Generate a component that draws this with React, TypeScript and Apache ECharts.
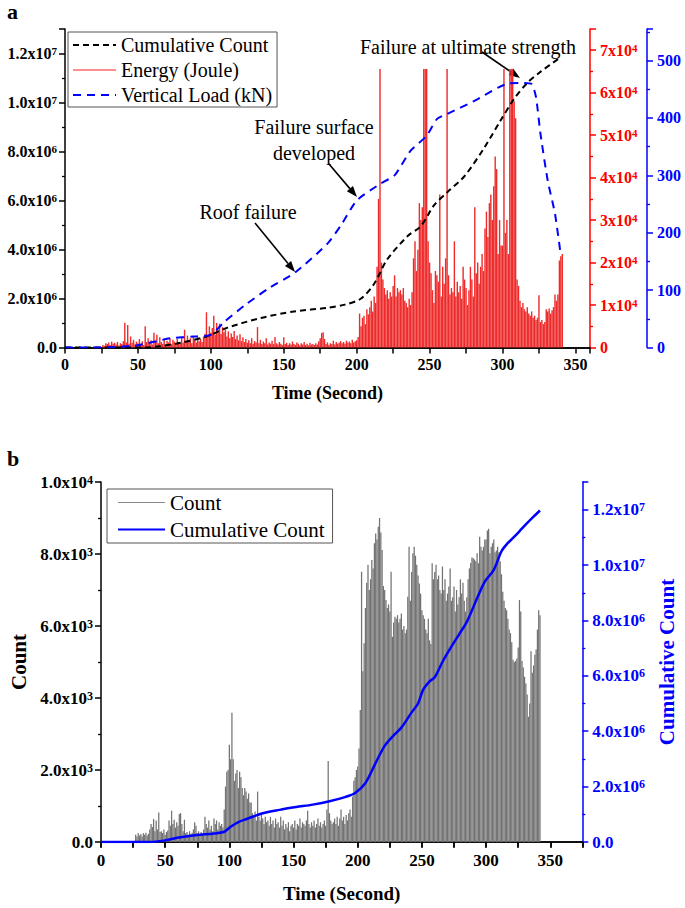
import React, { useEffect, useRef } from "react";
import * as echarts from "echarts";

const TIMES = "'Liberation Serif','Times New Roman',Times,serif";

// ---------- Panel a data ----------
const energyStartSecond = 25;
// Energy (Joule), one value per second from t = 25 s to t = 341 s
const energyJoule = [
  0, 600, 400, 1000, 800,
  1200, 600, 1400, 900, 1100, 700, 1300, 500, 1000, 800,
  1500, 5800, 1200, 5300, 900, 2600, 1100, 1800, 700, 1400,
  1000, 2000, 800, 1500, 600, 5000, 1300, 2200, 900, 1700,
  700, 3500, 1400, 3000, 1000, 2400, 1300, 900, 2100, 700,
  1600, 1200, 2200, 800, 1800, 1400, 900, 2000, 1300, 1000,
  2300, 1200, 4200, 1600, 2800, 1400, 2200, 1000, 2600, 1800,
  1200, 2400, 1500, 2000, 1300, 2600, 3200, 8300, 2800, 5000,
  3500, 4600, 7500, 3000, 5800, 4000, 5600, 3200, 4800, 3600,
  4200, 2600, 3800, 2200, 3300, 2500, 3900, 2000, 2800, 1700,
  3100, 1500, 2400, 1300, 2000, 1100, 1700, 1000, 2200, 900,
  1500, 1200, 4800, 1000, 1800, 800, 1400, 1000, 2200, 700,
  1200, 900, 1600, 800, 2500, 1000, 700, 1300, 900, 600,
  2400, 800, 1100, 600, 1000, 700, 1400, 800, 600, 1200,
  900, 500, 1000, 700, 1300, 600, 900, 500, 1100, 700,
  800, 600, 1000, 700, 1500, 2200, 3400, 3600, 2000, 800,
  1200, 600, 1000, 800, 1600, 700, 1300, 900, 1100, 1500,
  1000, 1300, 900, 1600, 1100, 1400, 1000, 1800, 1200, 1500,
  1700, 2500, 8000, 5000, 7000, 7500, 5500, 9000, 7800, 9500,
  11000, 8500, 12000, 10500, 19000, 35000, 65600, 20000, 16000, 14000,
  12500, 13500, 11500, 13000, 12000, 14500, 17000, 12000, 14000, 13000,
  13500, 12500, 14000, 11000, 10500, 9500, 11500, 10000, 13000, 21000,
  25000, 18000, 23000, 34000, 30000, 33000, 65600, 65600, 65600, 25000,
  20000, 17500, 13500, 10500, 18000, 17000, 15500, 36000, 12000, 19000,
  15000, 21000, 65600, 17000, 12500, 14000, 13000, 25000, 12000, 15500,
  13000, 14500, 11500, 19000, 16000, 14000, 10000, 13500, 19000, 16000,
  12000, 33000, 17500, 20000, 15000, 19000, 22000, 18000, 28000, 32000,
  26000, 34000, 36000, 30000, 38000, 45000, 42000, 22000, 30000, 24000,
  24000, 65600, 27000, 30000, 22000, 65600, 65600, 65600, 58000, 54000,
  16000, 14500, 11000, 9500, 10500, 9000, 8500, 9500, 8000, 7500,
  8500, 7000, 7500, 6500, 7000, 12300, 6000, 6500, 5500, 6000,
  9000, 8500, 9200, 8000, 8800, 9500, 12500, 11000, 12500, 20500,
  21500, 22000,
];

const loadTime = [0, 25, 50, 72, 88, 100, 109, 123, 139, 158, 180, 189, 200, 216, 226, 237, 248, 255, 262, 281, 297, 304, 313, 320, 323, 326, 331, 336, 340];
const loadKN = [0, 0, 4, 16, 19, 22, 44, 73, 102, 131, 181, 212, 256, 285, 300, 343, 369, 398, 407, 430, 453, 460, 461, 459, 436, 373, 291, 233, 160];

const cumATime = [0, 55, 65, 80, 97, 111, 134, 157, 180, 192, 203, 212, 221, 235, 244, 253, 262, 274, 288, 299, 308, 317, 326, 340];
const cumACount = [0, 0, 50000, 200000, 450000, 800000, 1200000, 1470000, 1620000, 1750000, 2000000, 2600000, 3600000, 4550000, 4950000, 5800000, 6330000, 7000000, 8200000, 9300000, 10150000, 10800000, 11250000, 11850000];

// ---------- Panel b data ----------
const countStartSecond = 27;
// AE count, one value per second from t = 27 s to t = 342 s
const countPerSecond = [
  200, 150, 250,
  180, 220, 150, 240, 200, 260, 180, 230, 350, 500,
  420, 640, 300, 600, 350, 820, 280, 300, 250, 350,
  200, 280, 320, 600, 450, 870, 500, 620, 400, 550,
  450, 780, 800, 500, 300, 620, 250, 280, 200, 300,
  220, 260, 350, 550, 450, 250, 300, 200, 280, 240,
  350, 700, 500, 400, 600, 350, 450, 300, 650, 500,
  600, 350, 550, 450, 500, 400, 900, 1540, 1950, 2000,
  2700, 2300, 3590, 2300, 1700, 1900, 2000, 1500, 1950, 1800,
  1500, 1300, 1500, 1400, 1200, 1350, 1100, 1100, 800, 700,
  850, 600, 1400, 700, 600, 800, 650, 500, 700, 550,
  600, 450, 700, 500, 600, 400, 650, 500, 550, 400,
  700, 450, 600, 350, 500, 400, 550, 300, 450, 500,
  400, 600, 350, 500, 450, 650, 400, 550, 500, 450,
  600, 870, 500, 400, 550, 450, 600, 400, 500, 650,
  450, 550, 400, 500, 600, 450, 900, 2250, 800, 600,
  500, 550, 650, 500, 700, 450, 650, 900, 600, 700,
  500, 750, 600, 800, 900, 700, 1260, 1700, 1800, 2000,
  2100, 2600, 3670, 7510, 4740, 5520, 6500, 7200, 7700, 7000,
  7300, 7830, 7600, 8300, 8570, 8400, 8760, 9000, 8600, 8110,
  7110, 7000, 6720, 6500, 6600, 6400, 7510, 5700, 6100, 6260,
  6200, 6300, 6100, 6200, 6350, 5900, 6000, 5800, 5900, 6815,
  8200, 6700, 7500, 8020, 8200, 7950, 7700, 7400, 7180, 6900,
  6440, 6300, 6200, 5900, 5800, 6200, 5600, 5500, 7740, 7300,
  7500, 7700, 7300, 7400, 7000, 6900, 7650, 7000, 7300, 6700,
  6900, 7100, 7600, 6700, 6800, 7100, 6400, 7000, 6600, 6800,
  7300, 6900, 7200, 6700, 6400, 6800, 7300, 7600, 7750, 7900,
  7880, 7850, 7800, 8020, 7740, 8480, 8200, 8100, 8200, 8400,
  8400, 8650, 8700, 8020, 8200, 8300, 8400, 8050, 8100, 8200,
  8050, 7800, 7440, 6950, 6700, 6500, 6440, 6200, 5900, 5800,
  5550, 5060, 5000, 5030, 5100, 5400, 6720, 6400, 5030, 4850,
  4590, 4400, 4100, 3480, 3850, 5300, 4700, 4900, 5200, 5350,
  5900, 6440, 6300,
];

const cumBTime = [0, 38, 49, 56, 62, 75, 88, 96, 101, 107, 114, 126, 139, 152, 165, 178, 190, 198, 206, 214, 221, 228, 234, 242, 247, 251, 256, 260, 266, 272, 279, 285, 293, 299, 306, 312, 316, 321, 326, 331, 337, 342];
const cumBCount = [0, 0, 50000, 120000, 170000, 250000, 310000, 370000, 550000, 720000, 840000, 1040000, 1160000, 1260000, 1350000, 1470000, 1620000, 1770000, 2130000, 2860000, 3470000, 3850000, 4130000, 4680000, 5000000, 5500000, 5800000, 5950000, 6500000, 6980000, 7500000, 7950000, 8800000, 9400000, 9830000, 10500000, 10750000, 10980000, 11220000, 11470000, 11750000, 11970000];

// ---------- helpers ----------
function rich(color: string, size: number) {
  return {
    m: { fontFamily: TIMES, fontWeight: "bold", fontSize: size, color },
    s: { fontFamily: TIMES, fontWeight: "bold", fontSize: Math.round(size * 0.68), color, verticalAlign: "top" },
  };
}
function sciFmt(step: number, zero: string, digits: number) {
  return (v: number) => {
    if (Math.abs(v % step) > 1e-6) return "";
    if (v === 0) return zero;
    const e = Math.floor(Math.log10(v) + 1e-9);
    const m = v / Math.pow(10, e);
    return `{m|${m.toFixed(digits)}x10}{s|${e}}`;
  };
}
function arrow(x1: number, y1: number, x2: number, y2: number) {
  const dx = x2 - x1, dy = y2 - y1;
  const L = Math.sqrt(dx * dx + dy * dy);
  const ux = dx / L, uy = dy / L;
  const len = 11, hw = 4;
  const bx = x2 - ux * len, by = y2 - uy * len;
  return [
    { type: "line", shape: { x1, y1, x2: bx, y2: by }, style: { stroke: "#000", lineWidth: 1.6 } },
    {
      type: "polygon",
      shape: { points: [[x2, y2], [bx - uy * hw, by + ux * hw], [bx + uy * hw, by - ux * hw]] },
      style: { fill: "#000" },
    },
  ];
}
function axisCommon(color: string) {
  return {
    axisLine: { show: true, onZero: false, lineStyle: { color, width: 1.5 } },
    axisTick: { show: true, inside: false, length: 6, lineStyle: { color, width: 1.5 } },
    minorTick: { show: true, splitNumber: 2, length: 3, lineStyle: { color, width: 1.3 } },
    splitLine: { show: false },
    minorSplitLine: { show: false },
  };
}
const xFmt = (v: number) => (v % 50 === 0 ? String(v) : "");
const hiddenSymbol = { opacity: 0 };

export default function App() {
  const topRef = useRef<HTMLDivElement>(null);
  const botRef = useRef<HTMLDivElement>(null);

  useEffect(() => {
    const c1 = echarts.init(topRef.current!, null, { renderer: "svg" });
    const c2 = echarts.init(botRef.current!, null, { renderer: "svg" });

    const energyData = energyJoule.map((v, i) => [energyStartSecond + i, v]);
    const loadData = loadTime.map((t, i) => [t, loadKN[i]]);
    const cumAData = cumATime.map((t, i) => [t, cumACount[i]]);
    const countData = countPerSecond.map((v, i) => [countStartSecond + i, v]);
    const cumBData = cumBTime.map((t, i) => [t, cumBCount[i]]);

    const labelBase = (color: string, size: number) => ({
      fontFamily: TIMES, fontWeight: "bold", fontSize: size, color,
    });

    c1.setOption({
      animation: false,
      backgroundColor: "#fff",
      grid: { left: 65, right: 95, top: 29, bottom: 82.5 },
      legend: {
        orient: "vertical", left: 68, top: 32, itemWidth: 43, itemHeight: 14, itemGap: 5,
        padding: [3, 5, 2, 4], borderColor: "#555", borderWidth: 1, selectedMode: false,
        textStyle: { fontFamily: TIMES, fontSize: 20, color: "#000" },
        data: [
          { name: "Cumulative Count", itemStyle: hiddenSymbol },
          { name: "Energy (Joule)", icon: "path://M0,0H40V1H0Z", itemStyle: { color: "#ff2020" } },
          { name: "Vertical Load (kN)", itemStyle: hiddenSymbol },
        ],
      },
      xAxis: [
        {
          type: "value", min: 0, max: 360, interval: 25, position: "bottom",
          ...axisCommon("#000"), minorTick: { show: false },
          axisLabel: { ...labelBase("#000", 16), margin: 9, formatter: xFmt },
          name: "Time (Second)", nameLocation: "middle", nameGap: 36,
          nameTextStyle: { fontFamily: TIMES, fontWeight: "bold", fontSize: 18, color: "#000" },
        },
        {
          type: "value", min: 0, max: 360, position: "top",
          axisLine: { show: true, lineStyle: { color: "#000", width: 1.5 } },
          axisTick: { show: false }, axisLabel: { show: false }, splitLine: { show: false },
        },
      ],
      yAxis: [
        {
          type: "value", position: "left", min: 0, max: 13000000, interval: 2000000,
          ...axisCommon("#000"),
          axisLabel: { ...labelBase("#000", 16), margin: 8, formatter: sciFmt(2000000, "0.0", 1), rich: rich("#000", 16) },
        },
        {
          type: "value", position: "right", offset: 0, min: 0, max: 75000, interval: 10000,
          ...axisCommon("#ff0000"),
          axisLabel: { ...labelBase("#ff0000", 16), margin: 10, formatter: sciFmt(10000, "0", 0), rich: rich("#ff0000", 16) },
        },
        {
          type: "value", position: "right", offset: 57, min: 0, max: 555, interval: 100,
          ...axisCommon("#0000ff"),
          axisLabel: { ...labelBase("#0000ff", 16), margin: 10, formatter: (v: number) => (v % 100 === 0 ? String(v) : "") },
        },
      ],
      series: [
        {
          name: "Energy (Joule)", type: "bar", xAxisIndex: 0, yAxisIndex: 1, data: energyData,
          barWidth: 1.4, itemStyle: { color: "#ee2a2a" }, z: 1,
        },
        {
          name: "Cumulative Count", type: "line", xAxisIndex: 0, yAxisIndex: 0, data: cumAData,
          symbol: "none", showSymbol: false, smooth: 0.3,
          lineStyle: { color: "#000", width: 2, type: [6, 4] }, itemStyle: { color: "#000" }, z: 3,
        },
        {
          name: "Vertical Load (kN)", type: "line", xAxisIndex: 0, yAxisIndex: 2, data: loadData,
          symbol: "none", showSymbol: false, smooth: 0.2,
          lineStyle: { color: "#0000ff", width: 2, type: [8, 6] }, itemStyle: { color: "#0000ff" }, z: 3,
        },
      ],
      graphic: [
        { type: "text", left: 7, top: 0, style: { text: "a", fontFamily: TIMES, fontWeight: "bold", fontSize: 22, fill: "#000" } },
        { type: "text", x: 468, y: 47, style: { text: "Failure at ultimate strength", fontFamily: TIMES, fontSize: 20, fill: "#000", align: "center", verticalAlign: "middle" } },
        { type: "text", x: 314, y: 127, style: { text: "Failure surface", fontFamily: TIMES, fontSize: 20, fill: "#000", align: "center", verticalAlign: "middle" } },
        { type: "text", x: 314, y: 153, style: { text: "developed", fontFamily: TIMES, fontSize: 20, fill: "#000", align: "center", verticalAlign: "middle" } },
        { type: "text", x: 248, y: 212, style: { text: "Roof failure", fontFamily: TIMES, fontSize: 20, fill: "#000", align: "center", verticalAlign: "middle" } },
        ...arrow(482, 52, 520, 78),
        ...arrow(329, 164, 357, 197),
        ...arrow(255, 223, 295, 272),
      ],
    });

    c2.setOption({
      animation: false,
      backgroundColor: "#fff",
      grid: { left: 101, right: 93, top: 52, bottom: 66 },
      legend: {
        orient: "vertical", left: 107, top: 59, itemWidth: 47, itemHeight: 14, itemGap: 6,
        padding: [3, 8, 3, 10], borderColor: "#555", borderWidth: 1, selectedMode: false,
        textStyle: { fontFamily: TIMES, fontSize: 21, color: "#000" },
        data: [
          { name: "Count", icon: "path://M0,0H40V1H0Z", itemStyle: { color: "#8a8a8a" } },
          { name: "Cumulative Count", itemStyle: hiddenSymbol },
        ],
      },
      xAxis: [
        {
          type: "value", min: 0, max: 375, interval: 25, position: "bottom",
          ...axisCommon("#000"), minorTick: { show: false },
          axisLabel: { ...labelBase("#000", 17), margin: 10, formatter: xFmt },
          name: "Time (Second)", nameLocation: "middle", nameGap: 42,
          nameTextStyle: { fontFamily: TIMES, fontWeight: "bold", fontSize: 19, color: "#000" },
        },
        {
          type: "value", min: 0, max: 375, interval: 25, position: "top",
          axisLine: { show: true, lineStyle: { color: "#000", width: 1.5 } },
          axisTick: { show: true, inside: true, length: 5, lineStyle: { color: "#000", width: 1.5 } },
          axisLabel: { show: false }, splitLine: { show: false },
        },
      ],
      yAxis: [
        {
          type: "value", position: "left", min: 0, max: 10000, interval: 2000,
          ...axisCommon("#000"),
          axisLabel: { ...labelBase("#000", 17), margin: 8, formatter: sciFmt(2000, "0.0", 1), rich: rich("#000", 17) },
          name: "Count", nameLocation: "middle", nameGap: 72, nameRotate: 90,
          nameTextStyle: { fontFamily: TIMES, fontWeight: "bold", fontSize: 21, color: "#000" },
        },
        {
          type: "value", position: "right", min: 0, max: 13000000, interval: 2000000,
          ...axisCommon("#0000ff"),
          axisLabel: { ...labelBase("#0000ff", 17), margin: 10, formatter: sciFmt(2000000, "0.0", 1), rich: rich("#0000ff", 17) },
          name: "Cumulative Count", nameLocation: "middle", nameGap: 70, nameRotate: 90,
          nameTextStyle: { fontFamily: TIMES, fontWeight: "bold", fontSize: 21, color: "#0000ff" },
        },
      ],
      series: [
        {
          name: "Count", type: "bar", xAxisIndex: 0, yAxisIndex: 0, data: countData,
          barWidth: 1.25, itemStyle: { color: "#737373" }, z: 1,
        },
        {
          name: "Cumulative Count", type: "line", xAxisIndex: 0, yAxisIndex: 1, data: cumBData,
          symbol: "none", showSymbol: false, smooth: 0.3,
          lineStyle: { color: "#0000ff", width: 2.5 }, itemStyle: { color: "#0000ff" }, z: 3,
        },
      ],
      graphic: [
        { type: "text", left: 7, top: 17, style: { text: "b", fontFamily: TIMES, fontWeight: "bold", fontSize: 22, fill: "#000" } },
      ],
    });

    return () => {
      c1.dispose();
      c2.dispose();
    };
  }, []);

  return (
    <div style={{ position: "absolute", left: 0, top: 0, width: 685, height: 908, background: "#fff" }}>
      <div ref={topRef} style={{ width: 685, height: 430 }} />
      <div ref={botRef} style={{ width: 685, height: 478 }} />
    </div>
  );
}
